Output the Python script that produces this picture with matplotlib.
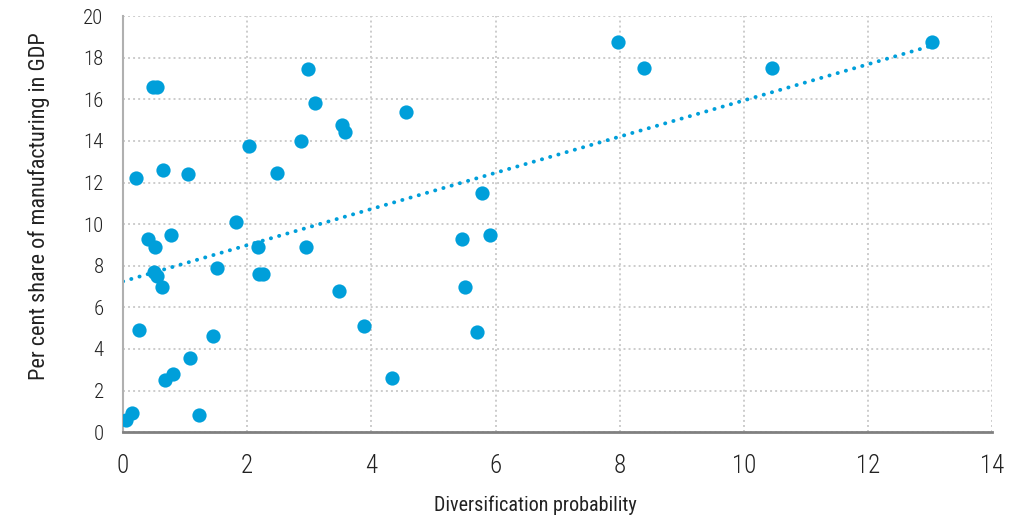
import numpy as np
import matplotlib
matplotlib.use("Agg")
import matplotlib.pyplot as plt

plt.rcParams['font.family'] = ['Roboto Condensed', 'Archivo Narrow', 'DejaVu Sans Condensed', 'DejaVu Sans']
plt.rcParams['font.weight'] = 'light'

# diversification probability (x) and manufacturing share of GDP (y)
div_prob = [0.05, 0.15, 0.21, 0.25, 0.40, 0.48, 0.55, 0.52, 0.50, 0.55,
            0.63, 0.64, 0.68, 0.80, 0.77, 1.05, 1.08, 1.22, 1.45, 1.51,
            1.82, 2.03, 2.17, 2.19, 2.26, 2.48, 2.87, 2.95, 2.98, 3.09,
            3.48, 3.53, 3.58, 3.88, 4.33, 4.56, 5.46, 5.51, 5.70, 5.78,
            5.91, 7.97, 8.39, 10.46, 13.03]
manuf_share = [0.6, 0.9, 12.2, 4.9, 9.3, 16.6, 16.6, 8.9, 7.7, 7.5,
               7.0, 12.6, 2.5, 2.8, 9.5, 12.4, 3.55, 0.8, 4.6, 7.9,
               10.1, 13.75, 8.9, 7.6, 7.6, 12.45, 14.0, 8.9, 17.45, 15.8,
               6.8, 14.75, 14.45, 5.1, 2.6, 15.4, 9.3, 7.0, 4.8, 11.5,
               9.5, 18.75, 17.5, 17.5, 18.75]

xticks = [0, 2, 4, 6, 8, 10, 12, 14]
yticks = [0, 2, 4, 6, 8, 10, 12, 14, 16, 18, 20]

blue = '#009fda'

fig = plt.figure(figsize=(10.25, 5.2), dpi=100)
ax = fig.add_axes([0.12, 0.169, 0.848, 0.8])

ax.scatter(div_prob, manuf_share, s=105, color=blue, zorder=3, linewidths=0)

# linear trend line
x = np.array(div_prob)
slope, icpt = np.polyfit(x, np.array(manuf_share), 1)
xt = np.array([0, x.max()])
ax.plot(xt, slope * xt + icpt, color=blue, lw=2.8,
        linestyle=(0, (0.05, 2.15)), dash_capstyle='round', zorder=2)

ax.set_xlim(0, 14)
ax.set_ylim(0, 20)
ax.set_xticks(xticks)
ax.set_yticks(yticks)
ax.tick_params(length=0, colors='#222222')
ax.tick_params(axis='y', labelsize=15, pad=14)
ax.tick_params(axis='x', labelsize=18, pad=16)

ax.grid(True, color='#cccccc', lw=1.4, linestyle=(0, (1, 1.6)))
ax.set_axisbelow(True)
for s in ['top', 'right']:
    ax.spines[s].set_visible(False)
ax.spines['left'].set_color('#b0b0b0')
ax.spines['left'].set_linewidth(1.5)
ax.spines['bottom'].set_color('#808080')
ax.spines['bottom'].set_linewidth(2)

ax.set_xlabel('Diversification probability', fontsize=14.5, color='#222222', labelpad=12)
ax.set_ylabel('Per cent share of manufacturing in GDP', fontsize=16, color='#222222', labelpad=24)
# labels sit a bit off-centre in the original
ax.xaxis.label.set_x(0.475)
ax.yaxis.label.set_y(0.543)

fig.savefig('out.png', dpi=100)
